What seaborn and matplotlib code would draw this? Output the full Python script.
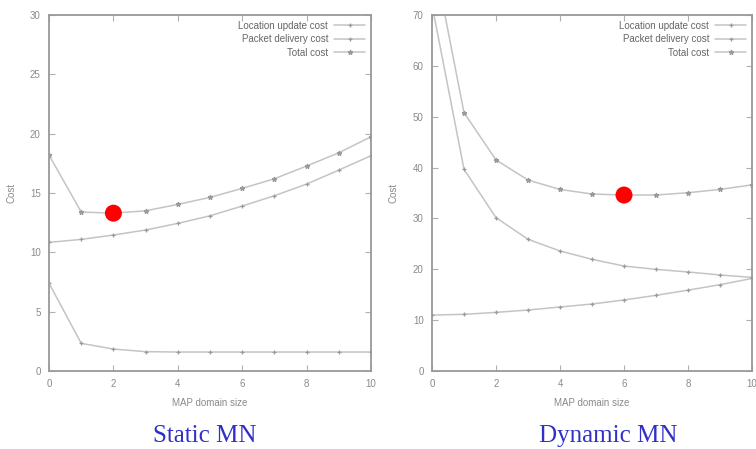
import matplotlib
matplotlib.use("Agg")
import matplotlib.pyplot as plt
import seaborn as sns
import pandas as pd

# ---- data ----
x_vals = [0, 1, 2, 3, 4, 5, 6, 7, 8, 9, 10]

static_location = [7.4, 2.33, 1.85, 1.63, 1.6, 1.6, 1.6, 1.6, 1.6, 1.6, 1.6]
static_packet = [10.84, 11.09, 11.46, 11.88, 12.44, 13.08, 13.9, 14.77, 15.75, 16.93, 18.14]
static_total = [18.2, 13.4, 13.3, 13.5, 14.04, 14.63, 15.39, 16.2, 17.27, 18.39, 19.74]

dynamic_location = [72.0, 39.66, 30.15, 25.9, 23.6, 21.96, 20.64, 19.99, 19.47, 18.88, 18.4]
dynamic_packet = [11.0, 11.14, 11.53, 11.99, 12.58, 13.17, 13.96, 14.88, 15.9, 16.97, 18.2]
dynamic_total = [83.0, 50.8, 41.5, 37.55, 35.7, 34.8, 34.6, 34.6, 35.06, 35.7, 36.6]

series_names = ["Location update cost", "Packet delivery cost", "Total cost"]
panel_titles = ["Static MN", "Dynamic MN"]
optimum_x = [2, 6]
optimum_y = [13.3, 34.6]
y_limits = [30, 70]
y_steps = [5, 10]
x_ticks = [0, 2, 4, 6, 8, 10]
x_label = "MAP domain size"
y_label = "Cost"

sns.set_style("ticks")
plt.rcParams["font.family"] = ["Liberation Sans", "DejaVu Sans"]

fig = plt.figure(figsize=(7.56, 4.49), dpi=100)
axes = [
    fig.add_axes([49 / 756, 1 - 371 / 449, 322 / 756, 356 / 449]),
    fig.add_axes([432 / 756, 1 - 371 / 449, 320 / 756, 356 / 449]),
]

panels = [
    (static_location, static_packet, static_total),
    (dynamic_location, dynamic_packet, dynamic_total),
]
markers = ["+", "+", "*"]
line_color = "#c4c4c4"
mark_color = "#9a9a9a"
tick_color = "#8a8a8a"

for i, ax in enumerate(axes):
    for name, vals, mk in zip(series_names, panels[i], markers):
        df = pd.DataFrame({"x": x_vals, "y": vals})
        sns.lineplot(data=df, x="x", y="y", ax=ax, color=line_color, lw=1.1,
                     marker=mk, markersize=3.5, markeredgecolor=mark_color,
                     markerfacecolor=mark_color, markeredgewidth=0.9,
                     label=name, clip_on=True)
    dot = pd.DataFrame({"x": [optimum_x[i]], "y": [optimum_y[i]]})
    sns.scatterplot(data=dot, x="x", y="y", ax=ax, color="#ff0000", s=150,
                    edgecolor="none", zorder=5, legend=False)
    ax.set_xlim(0, 10)
    ax.set_ylim(0, y_limits[i])
    ax.set_xticks(x_ticks)
    ax.set_yticks(list(range(0, y_limits[i] + 1, y_steps[i])))
    ax.tick_params(direction="in", top=True, right=True, length=4, width=0.8,
                   color="#b0b0b0", labelsize=7, labelcolor=tick_color, pad=6)
    for s in ax.spines.values():
        s.set_color("#999999")
        s.set_linewidth(1.3)
    ax.set_xlabel(x_label, fontsize=7, color=tick_color, labelpad=6)
    ax.set_ylabel(y_label, fontsize=7, color=tick_color, labelpad=10)
    leg = ax.legend(loc="upper right", frameon=False, markerfirst=False,
                    fontsize=7, handlelength=3.2, labelspacing=0.35,
                    borderaxespad=0.2, handletextpad=0.6)
    for t in leg.get_texts():
        t.set_color("#666666")

fig.text(205 / 756, 1 - 436 / 449, panel_titles[0], ha="center", va="center",
         fontsize=18, color="#3030c8", family=["Liberation Serif", "DejaVu Serif"])
fig.text(608 / 756, 1 - 436 / 449, panel_titles[1], ha="center", va="center",
         fontsize=18, color="#3030c8", family=["Liberation Serif", "DejaVu Serif"])

fig.savefig("out.png", dpi=100, facecolor="white")
